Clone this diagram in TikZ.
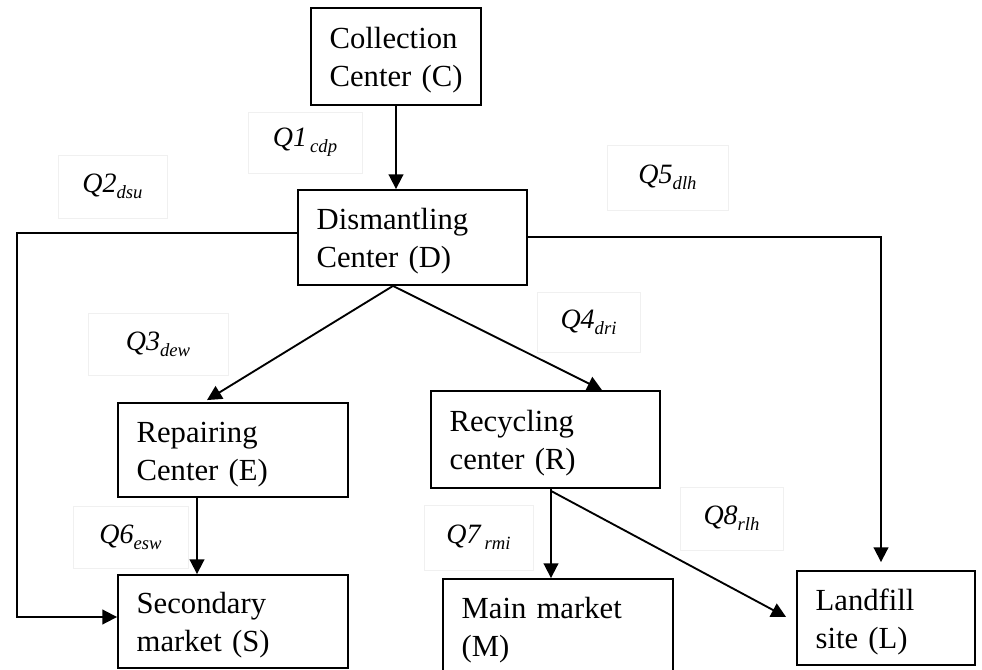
\documentclass[tikz,border=0pt]{standalone}
\usepackage{fontspec}
\setmainfont{Liberation Serif}
\usetikzlibrary{arrows.meta,calc}
\newcommand\qlab[2]{\textit{#1}\raisebox{-0.22em}{\fontsize{14}{15}\selectfont\itshape #2}}
\newcommand\twolines[2]{\rule{0pt}{21.5pt}\mbox{#1}\\\mbox{#2}}
\tikzset{
  box/.style n args={2}{draw, line width=1.4pt, rectangle, inner xsep=14pt, inner ysep=0pt,
    text width=#1-28pt, minimum width=#1, minimum height=#2, align=left,
    font=\fontsize{23}{28.5}\selectfont},
  lab/.style n args={2}{draw=black!6, line width=0.4pt, rectangle, minimum width=#1, minimum height=#2,
    inner sep=0pt, font=\fontsize{21}{24}\selectfont},
  arr/.style={line width=1.4pt, -{Triangle[length=11pt,width=11pt]}}
}
\begin{document}
\begin{tikzpicture}[x=0.75pt,y=-0.75pt]
\useasboundingbox (0,0) rectangle (982,670);
% boxes
\node[box={127.5pt}{72.75pt}] (C) at (396,56.5) {\twolines{Collection}{Center (C)}};
\node[box={171.75pt}{71.25pt}] (D) at (412.5,237.5) {\twolines{Dismantling}{Center (D)}};
\node[box={172.5pt}{70.5pt}] (E) at (233,450) {\twolines{Repairing}{Center (E)}};
\node[box={171.75pt}{72.75pt}] (R) at (545.5,439.5) {\twolines{Recycling}{center (R)}};
\node[box={172.5pt}{69.75pt}] (S) at (233,621.5) {\twolines{Secondary}{market (S)}};
\node[box={172.5pt}{71.25pt}] (M) at (558,626.5) {\twolines{Main market}{(M)}};
\node[box={133.5pt}{70.5pt}] (L) at (886,618) {\twolines{Landfill}{site (L)}};
% labels
\node[lab={85.5pt}{45.75pt}] (q1) at (305,142.5) {\qlab{Q1}{\,cdp}};
\node[lab={81.75pt}{47.25pt}] (q2) at (112.5,186.5) {\qlab{Q2}{dsu}};
\node[lab={90.75pt}{48.75pt}] (q5) at (667.5,177.5) {\qlab{Q5}{dlh}};
\node[lab={77.25pt}{45pt}] (q4) at (588.5,322) {\qlab{Q4}{dri}};
\node[lab={105pt}{46.5pt}] (q3) at (158,344) {\qlab{Q3}{dew}};
\node[lab={86.25pt}{46.5pt}] (q6) at (130.5,537) {\qlab{Q6}{esw}};
\node[lab={81.75pt}{48.75pt}] (q7) at (478.5,537.5) {\qlab{Q7}{\,rmi}};
\node[lab={77.25pt}{47.25pt}] (q8) at (731.5,518.5) {\qlab{Q8}{rlh}};
% helper coordinates
\coordinate (dA) at ($(D.south)+(-19.5,0)$);
\coordinate (rA) at ($(R.south)+(5.5,0)$);
\coordinate (dl) at ($(D.west)+(0,-4.5)$);
\coordinate (dr) at ($(D.east)+(0,-0.5)$);
\coordinate (sl) at ($(S.west)+(0,-4.5)$);
\coordinate (lt) at ($(L.north)+(-5,-8)$);
% connectors
\draw[arr] (C.south) -- (C.south |- D.north);
\draw[arr] (dA) -- ($(E.north)+(-26,-2)$);
\draw[arr] (dA) -- ($(R.north)+(56.5,0)$);
\draw[arr] (dl) -- (17,233) -- (17,617) -- (sl);
\draw[arr] (dr) -| (lt);
\draw[arr] ($(E.south)+(-36,0)$) -- ($(S.north)+(-36,0)$);
\draw[arr] (rA) -- (rA |- M.north);
\draw[arr] ($(rA)+(0,2)$) -- ($(L.west)+(-10,-1)$);
\end{tikzpicture}
\end{document}
